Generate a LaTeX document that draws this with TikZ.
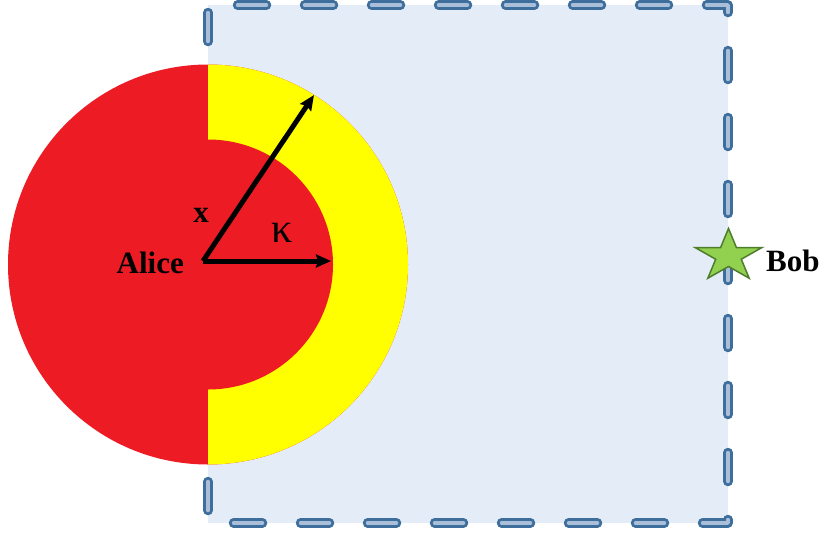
\documentclass[tikz,border=0pt]{standalone}
\usepackage{fontspec}
\setmainfont{Liberation Serif}
\usetikzlibrary{arrows.meta,shapes.geometric}
\definecolor{alicered}{HTML}{ED1C24}
\definecolor{ringyellow}{HTML}{FFFF00}
\definecolor{regionblue}{HTML}{E4EDF7}
\definecolor{borderblue}{HTML}{3E6E9C}
\definecolor{borderlight}{HTML}{A9BFD9}
\definecolor{stargreen}{HTML}{92D050}
\definecolor{stardark}{HTML}{4E7D2E}
\begin{document}
\begin{tikzpicture}[x=1pt, y=-1pt,
    region/.style={fill=regionblue, draw=borderblue, double=borderlight, line width=3pt, double distance=3.5pt, line cap=round, line join=round, dash pattern=on 29pt off 38pt, dash phase=37.5pt},
    who/.style={font=\fontsize{31}{31}\selectfont\bfseries, inner sep=0pt},
    ray/.style={-{Stealth[length=15pt, width=13pt, inset=2pt]}, line width=5pt},
    bobstar/.style={star, star points=5, star point ratio=2.618, minimum size=55pt, inner sep=0pt, xscale=1.28, transform shape, fill=stargreen, draw=stardark, line width=1.5pt}
]
\useasboundingbox (0,0) rectangle (830,536);
\path[region] (208,5) -- (728,5) -- (728,523) -- (208,523) -- cycle;
\coordinate (c) at (208,264.5);
\fill[alicered] (c) circle (200);
\fill[ringyellow] (208,64.5) arc (-90:90:200) -- cycle;
\fill[alicered] (c) circle (125);
\coordinate (o) at (203,261);
\coordinate (xtip) at (314,95);
\coordinate (ktip) at (331,261);
\draw[ray] (o) -- (xtip);
\draw[ray] (o) -- (ktip);
\node[who, anchor=base east] (alice) at (184,273) {Alice};
\node[who] (xlab) at (201,215.5) {x};
\node[font=\fontsize{42}{42}\selectfont, inner sep=0pt] (klab) at (282,233) {κ};
\node[bobstar] (star) at (728.5,256) {};
\node[who, anchor=west] (bob) at (766,261) {Bob};
\end{tikzpicture}
\end{document}
